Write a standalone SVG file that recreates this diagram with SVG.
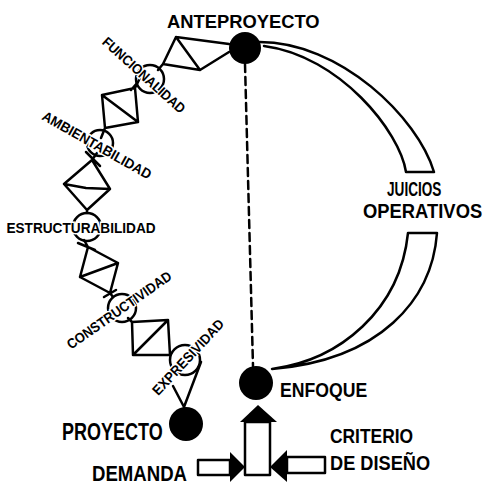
<svg xmlns="http://www.w3.org/2000/svg" width="487" height="485" viewBox="0 0 487 485">
<defs>
<style>
.ln{fill:none;stroke:#000;stroke-width:2.5;stroke-linejoin:round;stroke-linecap:round}
.sh{fill:#fff;stroke:#000;stroke-width:2.5;stroke-linejoin:round}
.dot{fill:#000}
.lbl{font-family:"Liberation Sans",Arial,sans-serif;fill:#000;font-weight:bold}
.sm{font-family:"Liberation Sans",Arial,sans-serif;font-weight:bold;fill:#000;font-size:14px;stroke:#fff;stroke-width:3;paint-order:stroke;text-anchor:middle}
</style>
</defs>
<rect width="487" height="485" fill="#fff"/>
<g id="connectors">
<line class="ln" x1="245" y1="64" x2="253" y2="366" stroke-dasharray="8 5"/>
<path id="crescent-top" class="ln" d="M258,42 C340,41 418,118 434,172 L406,172 C400,132 340,56 264,46"/>
<path id="crescent-bottom" class="ln" d="M437,233 C432,300 380,360 272,369 C340,360 400,310 408,233 Z"/>
<g id="chain">
<path class="ln" d="M176,37 L229,44 M229,52 L200,70 L163,64 L176,37 L200,70 M163,64 L158,70"/>
<circle class="ln" cx="150" cy="79" r="14"/>
<path class="ln" d="M102,95 L135,88 L138,122 L105,128 Z M102,95 L138,122 M135,88 L142,74 M138,82 L131,90 M105,128 L101,138"/>
<circle class="ln" cx="100" cy="143" r="13"/>
<path class="ln" d="M92,160 L110,189 L87,210 L64,184 Z M64,184 L86,188 L110,189 M92,160 L97,153 M86,152 L100,166 M87,210 L87,213"/>
<circle class="ln" cx="87" cy="227" r="14"/>
<path class="ln" d="M88,247 L118,263 L110,293 L80,277 Z M80,277 L118,263 M88,247 L84,240 M78,243 L95,250 M110,293 L113,297 M104,297 L116,290"/>
<circle class="ln" cx="122" cy="308" r="14"/>
<path class="ln" d="M132,322 L168,320 L170,355 L133,355 Z M133,355 L168,320 M132,322 L128,318"/>
<circle class="ln" cx="185" cy="360" r="15"/>
<path class="ln" d="M173,386 L184,407 L201,362"/>
</g>
<g id="arrows">
<rect class="sh" x="245" y="422" width="25" height="53"/>
<polygon class="dot" points="240,422 277,422 258,405"/>
<rect class="sh" x="198" y="460" width="32" height="15"/>
<polygon class="dot" points="230,452 245,467 230,482"/>
<rect class="sh" x="287" y="457" width="38" height="16"/>
<polygon class="dot" points="287,450 270,467 287,482"/>
</g>
</g>
<g id="anteproyecto">
<circle class="dot" cx="245" cy="48" r="16"/>
<text class="lbl" font-size="18" transform="translate(167,28) scale(1.02,1)">ANTEPROYECTO</text>
</g>
<g id="enfoque">
<circle class="dot" cx="256" cy="383" r="17"/>
<text class="lbl" font-size="21" transform="translate(280,397) scale(0.84,1)">ENFOQUE</text>
</g>
<g id="proyecto">
<circle class="dot" cx="186" cy="424" r="17"/>
<text class="lbl" font-size="24" transform="translate(62,440) scale(0.75,1)">PROYECTO</text>
</g>
<g id="juicios">
<text class="lbl" font-size="20" transform="translate(387,196) scale(0.68,1)">JUICIOS</text>
<text class="lbl" font-size="20" transform="translate(363,218) scale(0.92,1)">OPERATIVOS</text>
</g>
<g id="demanda">
<text class="lbl" font-size="22" transform="translate(92,481) scale(0.845,1)">DEMANDA</text>
</g>
<g id="criterio">
<text class="lbl" font-size="20" transform="translate(330,443) scale(0.87,1)">CRITERIO</text>
<text class="lbl" font-size="20" transform="translate(330,470) scale(0.91,1)">DE DISEÑO</text>
</g>
<g id="labels-chain">
<text class="sm" transform="translate(144,75) rotate(42) scale(0.91,1)" dy="5">FUNCIONALIDAD</text>
<text class="sm" transform="translate(97,145) rotate(29.5) scale(0.95,1)" dy="5">AMBIENTABILIDAD</text>
<text class="sm" transform="translate(81,228) scale(0.975,1)" dy="5">ESTRUCTURABILIDAD</text>
<text class="sm" transform="translate(119,310) rotate(-35) scale(0.92,1)" dy="5">CONSTRUCTIVIDAD</text>
<text class="sm" transform="translate(188,357) rotate(-47) scale(0.94,1)" dy="5">EXPRESIVIDAD</text>
</g>
</svg>
